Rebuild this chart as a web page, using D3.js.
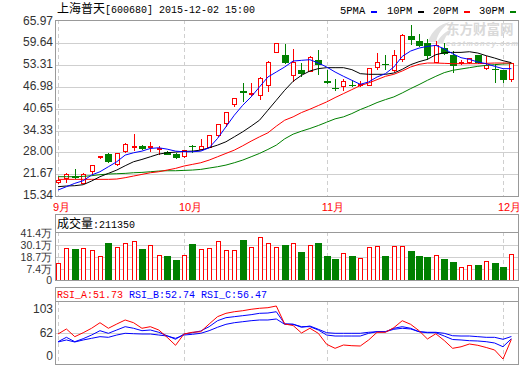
<!DOCTYPE html>
<html>
<head>
<meta charset="utf-8">
<script src="https://cdn.jsdelivr.net/npm/d3@7"></script>
<style>
  body { margin: 0; background: #fff; }
  svg { display: block; font-family: "Liberation Sans", Arial, sans-serif; }
</style>
</head>
<body>
<script>
(function () {
  "use strict";

  // ---- data ----
  var priceTicks = [65.97, 59.64, 53.31, 46.98, 40.65, 34.33, 28.00, 21.67, 15.34];
  var volTicks = [414000, 301000, 187000, 74000, 0];
  var volTickLabels = ["41.4万", "30.1万", "18.7万", "7.4万", "0"];
  var rsiTicks = [103, 62, 0];
  var months = ["9月", "10月", "11月", "12月"];
  var monthIdx = [0, 15, 32, 53];

  var open = [19.20, 20.46, 21.13, 19.01, 22.38, 26.43, 27.40, 24.60, 28.17, 29.33,
              29.91, 29.33, 28.85, 27.98, 27.40, 26.92, 29.91, 28.85, 29.43, 32.80,
              36.37, 41.77, 45.73, 44.67, 44.38, 47.27, 56.91, 56.14, 50.36, 52.00,
              51.51, 54.89, 48.62, 46.69, 46.98, 47.46, 47.27, 47.46, 52.57, 53.73,
              51.80, 54.89, 61.64, 60.19, 59.81, 54.21, 58.36, 56.34, 53.73, 54.02,
              56.14, 52.29, 52.09, 51.80, 49.10];
  var close = [19.90, 21.71, 20.46, 21.71, 24.12, 26.72, 25.28, 27.69, 30.29, 29.62,
               28.85, 29.62, 29.04, 27.30, 26.24, 28.46, 29.43, 29.81, 32.80, 36.08,
               39.55, 43.51, 45.34, 45.15, 49.39, 54.02, 59.52, 53.92, 54.21, 50.65,
               55.66, 53.25, 48.23, 46.50, 48.43, 47.27, 47.66, 52.29, 54.21, 53.54,
               56.14, 61.93, 60.48, 58.84, 55.95, 59.04, 56.62, 53.06, 54.02, 55.18,
               53.92, 53.06, 51.90, 48.91, 53.73];
  var high = [20.90, 22.09, 23.06, 21.90, 24.31, 26.92, 27.69, 27.88, 30.78, 33.28,
              30.10, 31.07, 29.81, 28.46, 27.69, 28.65, 30.10, 31.84, 32.99, 36.27,
              39.75, 43.70, 48.14, 48.14, 49.87, 54.41, 59.70, 59.33, 58.07, 53.92,
              55.85, 57.78, 51.80, 49.39, 49.39, 48.91, 48.62, 52.48, 56.91, 56.14,
              57.59, 62.22, 64.82, 62.41, 60.97, 60.29, 59.81, 57.40, 54.70, 55.47,
              56.20, 55.85, 53.54, 52.00, 53.92];
  var low = [18.80, 19.20, 20.17, 18.82, 21.42, 25.95, 24.99, 24.12, 27.69, 28.36,
             28.65, 28.17, 27.21, 27.11, 25.95, 26.43, 27.88, 28.65, 29.23, 32.51,
             35.41, 41.19, 42.64, 44.28, 43.31, 45.53, 56.80, 53.54, 48.43, 49.87,
             51.32, 50.36, 47.94, 45.82, 45.82, 46.98, 46.98, 47.17, 52.00, 52.00,
             51.32, 54.21, 59.04, 58.55, 54.70, 53.92, 56.14, 51.13, 53.25, 53.54,
             53.73, 51.80, 48.14, 48.23, 48.43];

  var ma5 = [17.08, 18.04, 19.01, 19.78, 21.42, 22.38, 23.83, 25.28, 27.21, 27.88,
             28.36, 29.14, 29.33, 28.94, 28.36, 28.17, 28.17, 28.36, 29.33, 32.03,
             35.41, 38.78, 41.67, 44.09, 46.98, 49.87, 51.32, 52.77, 54.50, 54.70,
             54.89, 53.92, 52.77, 51.32, 50.07, 48.91, 47.75, 48.43, 49.87, 50.84,
             52.77, 55.85, 57.40, 58.26, 58.75, 59.04, 58.07, 56.62, 55.47, 54.98,
             54.21, 53.73, 52.96, 52.29, 52.29];
  var ma10 = [18.04, 18.24, 18.33, 18.62, 19.68, 20.94, 21.90, 22.87, 24.12, 25.28,
              25.95, 26.72, 27.50, 27.88, 28.08, 28.27, 28.36, 28.65, 29.33, 30.10,
              31.07, 32.51, 33.96, 35.60, 37.33, 40.23, 43.12, 46.02, 48.62, 50.36,
              51.61, 52.29, 52.57, 52.57, 52.57, 52.00, 50.84, 50.65, 50.65, 50.65,
              51.03, 52.09, 53.44, 54.31, 54.98, 56.34, 56.91, 57.01, 57.01, 57.20,
              56.82, 56.05, 55.37, 54.60, 54.02];
  var ma20 = [20.17, 20.17, 20.17, 20.17, 20.17, 20.17, 20.17, 20.26, 20.65, 21.13,
              21.61, 22.09, 22.38, 22.87, 23.35, 24.03, 24.51, 24.99, 25.76, 26.72,
              27.69, 28.65, 29.91, 31.26, 32.51, 33.67, 35.60, 37.33, 38.30, 39.55,
              40.52, 41.58, 42.64, 43.89, 45.05, 46.21, 47.37, 48.14, 49.10, 50.07,
              50.65, 51.61, 52.77, 53.54, 53.92, 53.92, 53.83, 53.73, 53.73, 53.73,
              53.73, 53.83, 53.92, 53.92, 53.92];
  var ma30 = [20.94, 20.94, 20.94, 21.03, 21.23, 21.52, 21.71, 21.81, 21.90, 22.09,
              22.19, 22.38, 22.58, 22.67, 22.67, 22.77, 22.87, 23.06, 23.45, 23.83,
              24.31, 24.99, 25.76, 26.72, 27.69, 28.85, 30.10, 31.93, 33.28, 34.15,
              34.92, 35.79, 36.76, 37.72, 38.30, 39.26, 40.42, 41.38, 42.45, 43.31,
              44.09, 45.24, 46.50, 47.66, 48.91, 50.07, 51.13, 51.80, 52.19, 52.57,
              52.96, 53.25, 53.44, 53.64, 53.73];

  var volume = [127800, 269500, 262800, 269500, 250600, 193900, 316700, 278900, 316700, 335600,
                262800, 294000, 203300, 193900, 156100, 203300, 307200, 260000, 269500, 335600,
                250600, 250600, 347900, 278900, 373400, 316700, 275100, 300600, 316700, 234500,
                297800, 319500, 196700, 168400, 222200, 196700, 175000, 278900, 288300, 196700,
                288300, 288300, 243900, 196700, 187300, 203300, 168400, 140000, 90000, 108900,
                111700, 146600, 130600, 92800, 211350];

  var rsiA = [60.7, 69.2, 56.2, 62.9, 70.4, 79.8, 70.4, 77.6, 84.4, 79.8,
              70.4, 73.1, 67.5, 55.1, 41.6, 60.7, 63.6, 64.6, 77.6, 90.0,
              95.7, 98.4, 100.1, 102.5, 104.2, 105.2, 108.1, 77.6, 75.1, 62.4,
              70.4, 61.9, 43.3, 36.5, 42.1, 40.9, 40.4, 50.6, 63.6, 63.6,
              71.4, 83.2, 77.1, 66.3, 52.3, 61.1, 49.7, 36.5, 39.1, 43.8,
              41.6, 37.9, 33.7, 18.4, 51.73];
  var rsiB = [47.7, 55.1, 47.7, 52.8, 59.0, 66.3, 61.9, 67.5, 73.1, 70.4,
              66.3, 67.5, 63.6, 57.8, 51.8, 60.7, 62.9, 65.8, 73.1, 83.2,
              88.3, 90.0, 91.7, 93.4, 95.7, 96.2, 98.4, 78.0, 77.3, 73.1,
              73.1, 67.5, 59.0, 57.3, 57.3, 57.3, 57.3, 61.9, 64.6, 64.6,
              70.4, 73.1, 70.4, 64.6, 62.9, 62.9, 57.3, 51.4, 50.6, 49.4,
              48.9, 47.7, 45.5, 39.2, 52.74];
  var rsiC = [47.2, 50.6, 47.2, 50.6, 53.4, 56.2, 55.1, 59.0, 61.9, 61.2,
              60.7, 60.7, 59.0, 57.3, 53.4, 59.0, 60.2, 61.9, 66.3, 72.1,
              77.1, 79.8, 81.5, 83.2, 84.4, 84.4, 86.1, 77.1, 77.1, 72.1,
              74.2, 68.7, 62.9, 61.9, 61.9, 61.9, 61.9, 63.6, 64.6, 64.6,
              68.7, 70.4, 69.2, 64.6, 63.6, 63.6, 61.9, 57.8, 57.3, 57.3,
              56.2, 55.1, 55.1, 51.8, 56.47];

  // ---- layout ----
  var w = 520, h = 365;
  var L = 55, R = 519;
  var RED = "#ff0000", GREEN = "#008000", BLUE = "#0000ff";
  var FRAME = "#999", GRID = "#cfcfcf";

  var svg = d3.select("body").append("svg")
      .attr("width", w).attr("height", h);

  var idx = d3.range(open.length);
  var x = d3.scaleLinear().domain([0, 54]).range([58, 511.4]);
  var yP = d3.scaleLinear().domain([15.34, 65.97]).range([196, 21.5]);
  var yV = d3.scaleLinear().domain([-30000, 414000]).range([280, 233]);
  var yR = d3.scaleLinear().domain([0, 103]).range([369.9, 309]);

  function px(v) { return Math.round(v) + 0.5; }
  function up(i) { return close[i] >= open[i]; }

  var defs = svg.append("defs");
  function clip(id, y0, y1) {
    defs.append("clipPath").attr("id", id).append("rect")
        .attr("x", L).attr("y", y0).attr("width", R - L).attr("height", y1 - y0);
  }
  clip("cMain", 20, 196);
  clip("cVol", 232, 280);
  clip("cRsi", 301, 364);

  // grids
  var grid = svg.append("g").attr("stroke", GRID).attr("shape-rendering", "crispEdges");
  grid.selectAll(".gp").data(priceTicks.slice(1, -1)).enter().append("line")
      .attr("x1", L).attr("x2", R)
      .attr("y1", d => px(yP(d))).attr("y2", d => px(yP(d)));
  grid.selectAll(".gv").data(volTicks.slice(1, -1)).enter().append("line")
      .attr("x1", L).attr("x2", R)
      .attr("y1", d => px(yV(d))).attr("y2", d => px(yV(d)));
  grid.append("line").attr("x1", L).attr("x2", R)
      .attr("y1", px(yR(62))).attr("y2", px(yR(62)));

  [[20, 196], [232, 280], [301, 364]].forEach(function (p) {
    grid.selectAll(null).data(monthIdx).enter().append("line")
        .attr("x1", d => px(x(d))).attr("x2", d => px(x(d)))
        .attr("y1", p[0]).attr("y2", p[1])
        .attr("stroke-dasharray", "4,3");
  });

  // watermark
  var wm = svg.append("g").attr("fill", "#d9d9d9");
  wm.append("path")
      .attr("d", "M428,42 C432,30 440,24 450,22 C443,27 438,33 436,42 Z M436,44 C440,36 446,31 452,29 C447,34 444,39 443,44 Z")
      .attr("fill", "#e0e0e0");
  wm.append("text").attr("x", 446).attr("y", 33.5)
      .attr("font-family", "'Noto Sans CJK SC'").attr("font-size", 13.5)
      .attr("font-weight", "bold").text("东方财富网");
  wm.append("text").attr("x", 446).attr("y", 46)
      .attr("font-size", 7.5).attr("font-weight", "bold").attr("font-style", "italic")
      .attr("textLength", 72).text("eastmoney.com");

  // candles
  var gc = svg.append("g").attr("clip-path", "url(#cMain)").attr("shape-rendering", "crispEdges");
  gc.selectAll(".wick").data(idx).enter().append("line")
      .attr("x1", i => px(x(i))).attr("x2", i => px(x(i)))
      .attr("y1", i => yP(high[i])).attr("y2", i => yP(low[i]))
      .attr("stroke", i => up(i) ? RED : GREEN);
  gc.selectAll(".body").data(idx).enter().append("rect")
      .attr("x", i => up(i) ? Math.round(x(i)) - 1.5 : Math.round(x(i)) - 3)
      .attr("width", i => up(i) ? 4 : 7)
      .attr("y", i => yP(Math.max(open[i], close[i])))
      .attr("height", i => Math.max(1, Math.abs(yP(open[i]) - yP(close[i]))))
      .attr("fill", i => up(i) ? "#fff" : GREEN)
      .attr("stroke", i => up(i) ? RED : "none");

  // moving averages
  var gl = svg.append("g").attr("clip-path", "url(#cMain)").attr("fill", "none");
  [[ma30, GREEN], [ma20, RED], [ma10, "#000"], [ma5, BLUE]].forEach(function (s) {
    gl.append("path").datum(s[0])
        .attr("d", d3.line().x((d, i) => x(i)).y(d => yP(d)))
        .attr("stroke", s[1]).attr("stroke-width", 1);
  });

  // volume
  var gv = svg.append("g").attr("clip-path", "url(#cVol)").attr("shape-rendering", "crispEdges");
  gv.selectAll("rect").data(idx).enter().append("rect")
      .attr("x", i => up(i) ? Math.round(x(i)) - 1.5 : Math.round(x(i)) - 3)
      .attr("width", i => up(i) ? 4 : 7)
      .attr("y", i => yV(volume[i]))
      .attr("height", i => 280.5 - yV(volume[i]))
      .attr("fill", i => up(i) ? "#fff" : GREEN)
      .attr("stroke", i => up(i) ? RED : "none");

  // rsi
  var gr = svg.append("g").attr("clip-path", "url(#cRsi)").attr("fill", "none");
  [[rsiC, BLUE], [rsiB, BLUE], [rsiA, RED]].forEach(function (s) {
    gr.append("path").datum(s[0])
        .attr("d", d3.line().x((d, i) => x(i)).y(d => yR(d)))
        .attr("stroke", s[1]).attr("stroke-width", 1);
  });

  // frames
  var fr = svg.append("g").attr("fill", "none").attr("stroke", FRAME)
      .attr("shape-rendering", "crispEdges");
  fr.append("rect").attr("x", L + 0.5).attr("y", 20.5).attr("width", R - L - 1).attr("height", 176);
  fr.append("rect").attr("x", L + 0.5).attr("y", 214.5).attr("width", R - L - 1).attr("height", 66);
  fr.append("line").attr("x1", L).attr("x2", R).attr("y1", 232.5).attr("y2", 232.5);
  fr.append("rect").attr("x", L + 0.5).attr("y", 287.5).attr("width", R - L - 1).attr("height", 77);
  fr.append("line").attr("x1", L).attr("x2", R).attr("y1", 301.5).attr("y2", 301.5);

  // axis labels
  var lab = svg.append("g").attr("fill", "#333").attr("text-anchor", "end");
  lab.selectAll(".lp").data(priceTicks).enter().append("text")
      .attr("font-size", 12)
      .attr("x", 53).attr("y", d => yP(d) + 3)
      .text(d => d.toFixed(2));
  lab.selectAll(".lv").data(volTicks).enter().append("text")
      .attr("font-size", 10.5)
      .attr("x", 52).attr("y", (d, i) => (d === 0 ? 280 : yV(d)) + 4)
      .text((d, i) => volTickLabels[i]);
  lab.selectAll(".lr").data(rsiTicks).enter().append("text")
      .attr("font-size", 12)
      .attr("x", 53).attr("y", d => Math.min(yR(d), 356) + 4)
      .text(d => d);

  svg.append("g").attr("fill", RED).attr("font-size", 11)
      .selectAll("text").data(monthIdx).enter().append("text")
      .attr("x", d => x(d) - 5).attr("y", 211)
      .text((d, i) => months[i]);

  // titles and legends
  var mono = "'Liberation Mono', 'DejaVu Sans Mono', monospace";
  var cjk = "'Noto Sans CJK SC', sans-serif";
  var title = svg.append("text").attr("x", 57).attr("y", 13).attr("fill", "#000");
  title.append("tspan").attr("font-family", cjk).attr("font-size", 12).text("上海普天");
  title.append("tspan").attr("font-family", mono).attr("font-size", 10)
      .text("[600680] 2015-12-02 15:00");

  var legNames = ["5PMA", "10PM", "20PM", "30PM"];
  var legColors = [BLUE, "#000", RED, GREEN];
  var legX = [340, 387, 433, 479];
  var leg = svg.append("g");
  leg.selectAll("text").data(legNames).enter().append("text")
      .attr("x", (d, i) => legX[i]).attr("y", 14)
      .attr("font-family", mono).attr("font-size", 10.5).attr("fill", "#000")
      .text(d => d);
  leg.selectAll("rect").data(legColors).enter().append("rect")
      .attr("x", (d, i) => legX[i] + 31).attr("y", 11)
      .attr("width", 6).attr("height", 2).attr("fill", d => d);

  var vt = svg.append("text").attr("x", 57).attr("y", 227.5).attr("fill", "#000");
  vt.append("tspan").attr("font-family", cjk).attr("font-size", 12).text("成交量");
  vt.append("tspan").attr("font-family", mono).attr("font-size", 10)
      .text(":" + volume[volume.length - 1]);

  var rsiNames = ["RSI_A", "RSI_B", "RSI_C"];
  var rsiLast = [rsiA, rsiB, rsiC].map(a => a[a.length - 1]);
  svg.append("g").attr("font-family", mono).attr("font-size", 10)
      .selectAll("text").data(rsiNames).enter().append("text")
      .attr("x", (d, i) => 57 + i * 72).attr("y", 298)
      .attr("fill", (d, i) => i === 0 ? RED : BLUE)
      .text((d, i) => d + ":" + rsiLast[i].toFixed(2));
})();
</script>
</body>
</html>
